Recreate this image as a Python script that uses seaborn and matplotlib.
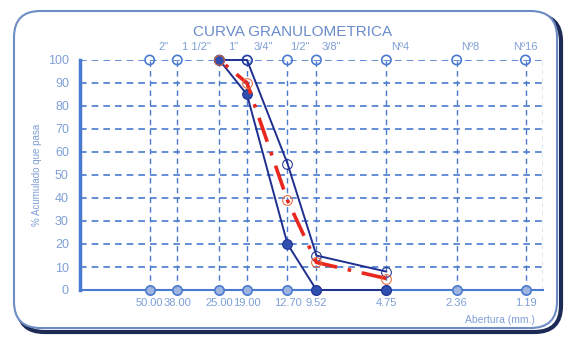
import numpy as np
import pandas as pd
import matplotlib
matplotlib.use("Agg")
import matplotlib.pyplot as plt
import seaborn as sns
from matplotlib.patches import FancyBboxPatch
from matplotlib.ticker import FixedLocator, MultipleLocator, NullLocator

# Datos de tamices
aberturas = [50.00, 38.00, 25.00, 19.00, 12.70, 9.52, 4.75, 2.36, 1.19]
etiquetas_abajo = ["50.00", "38.00", "25.00", "19.00", "12.70", "9.52", "4.75", "2.36", "1.19"]
etiquetas_arriba = ['2"', '1 1/2"', '1"', '3/4"', '1/2"', '3/8"', "Nº4", "Nº8", "Nº16"]

# Curvas (% acumulado que pasa)
tamiz_curva = [25.00, 19.00, 12.70, 9.52, 4.75]
limite_superior = [100, 100, 55, 15, 8]
limite_inferior = [100, 85, 20, 0, 0]
muestra = [100, 90, 39, 12, 5]

azul = "#4a7ad0"
azul_claro = "#7f9fd6"
azul_osc = "#1f2f8f"
rojo = "#e8281e"

sns.set_style("white")
plt.rcParams["font.family"] = ["Liberation Sans", "DejaVu Sans"]

fig = plt.figure(figsize=(5.85, 3.37), dpi=100)
ax = fig.add_axes([80 / 585, 47 / 337, 463 / 585, 230 / 337])

# marco redondeado con sombra
x0, y0, w, h = 14 / 585, 9 / 337, 543 / 585, 317 / 337
sombra = FancyBboxPatch((x0 + 4 / 585, y0 - 4 / 337), w, h, boxstyle="round,pad=0,rounding_size=0.045",
                        transform=fig.transFigure, facecolor="none", edgecolor="#1c2a55",
                        linewidth=3, zorder=-2, mutation_aspect=585 / 337)
fig.patches.append(sombra)
marco = FancyBboxPatch((x0, y0), w, h, boxstyle="round,pad=0,rounding_size=0.045",
                       transform=fig.transFigure, facecolor="white", edgecolor="#6d8cc4",
                       linewidth=1.5, zorder=-1, mutation_aspect=585 / 337)
fig.patches.append(marco)

ax.set_xscale("log")
ax.set_xlim(100, 1.0)
ax.set_ylim(0, 100)
ax.patch.set_alpha(0)

# rejilla
for a in aberturas:
    ax.axvline(a, color=azul, lw=1, ls=(0, (4, 3)), zorder=1)
for yv in range(10, 101, 10):
    ax.axhline(yv, color=azul, lw=1.2, ls=(0, (4, 3)), zorder=1)
ax.axvline(1.0, color=azul, lw=1, ls=(0, (3, 3)), zorder=1)

# circulos en los tamices
sns.scatterplot(x=aberturas, y=[100] * len(aberturas), ax=ax, s=45, marker="o",
                facecolor="none", edgecolor=azul, linewidth=1.2, zorder=3, clip_on=False)
sns.scatterplot(x=aberturas, y=[0] * len(aberturas), ax=ax, s=45, marker="o",
                facecolor="#9fb5e0", edgecolor=azul, linewidth=1.2, zorder=3, clip_on=False)

df = pd.DataFrame({"abertura": tamiz_curva, "sup": limite_superior,
                   "inf": limite_inferior, "muestra": muestra})

sns.lineplot(data=df, x="abertura", y="sup", ax=ax, color=azul_osc, lw=1.4, marker="o",
             markersize=7, markerfacecolor="none", markeredgecolor=azul_osc, zorder=5, clip_on=False)
sns.lineplot(data=df, x="abertura", y="inf", ax=ax, color=azul_osc, lw=1.4, marker="o",
             markersize=7, markerfacecolor="#3050b0", markeredgecolor=azul_osc, zorder=5, clip_on=False)
sns.lineplot(data=df, x="abertura", y="muestra", ax=ax, color=rojo, lw=2.6,
             linestyle=(0, (7, 3, 1, 3)), marker="o", markersize=7, markerfacecolor="none",
             markeredgecolor="#e86a3a", zorder=6, clip_on=False)

# ejes
ax.xaxis.set_major_locator(FixedLocator(aberturas))
ax.xaxis.set_minor_locator(NullLocator())
ax.set_xticklabels(etiquetas_abajo)
ax.yaxis.set_major_locator(MultipleLocator(10))
ax.yaxis.set_minor_locator(MultipleLocator(2))
ax.tick_params(axis="x", colors=azul, labelcolor=azul_claro, labelsize=8, length=0, pad=6)
ax.tick_params(axis="y", which="major", colors=azul, labelcolor=azul_claro, labelsize=9,
               length=4, direction="inout", pad=6)
ax.tick_params(axis="y", which="minor", colors=azul, length=3, direction="inout")
for s in ["top", "right"]:
    ax.spines[s].set_visible(False)
ax.spines["left"].set_color(azul)
ax.spines["left"].set_linewidth(2.5)
ax.spines["bottom"].set_color(azul)
ax.spines["bottom"].set_linewidth(1.5)
ax.set_xlabel("")
ax.set_ylabel("% Acumulado que pasa", color=azul_claro, fontsize=7, labelpad=4)

# etiquetas de tamices arriba
desp = [10, 14, 10, 12, 9, 11, 10, 10, 0]
for a, t, d in zip(aberturas, etiquetas_arriba, desp):
    ax.annotate(t, xy=(a, 100), xytext=(d, 6), textcoords="offset points", ha="center",
                va="bottom", color=azul_claro, fontsize=8)

fig.text(0.5, 0.905, "CURVA GRANULOMETRICA", ha="center", va="center", color="#6a8ccc", fontsize=11)
fig.text(0.855, 0.05, "Abertura (mm.)", ha="center", va="center", color=azul_claro, fontsize=7.5)

fig.savefig("out.png", dpi=100)
